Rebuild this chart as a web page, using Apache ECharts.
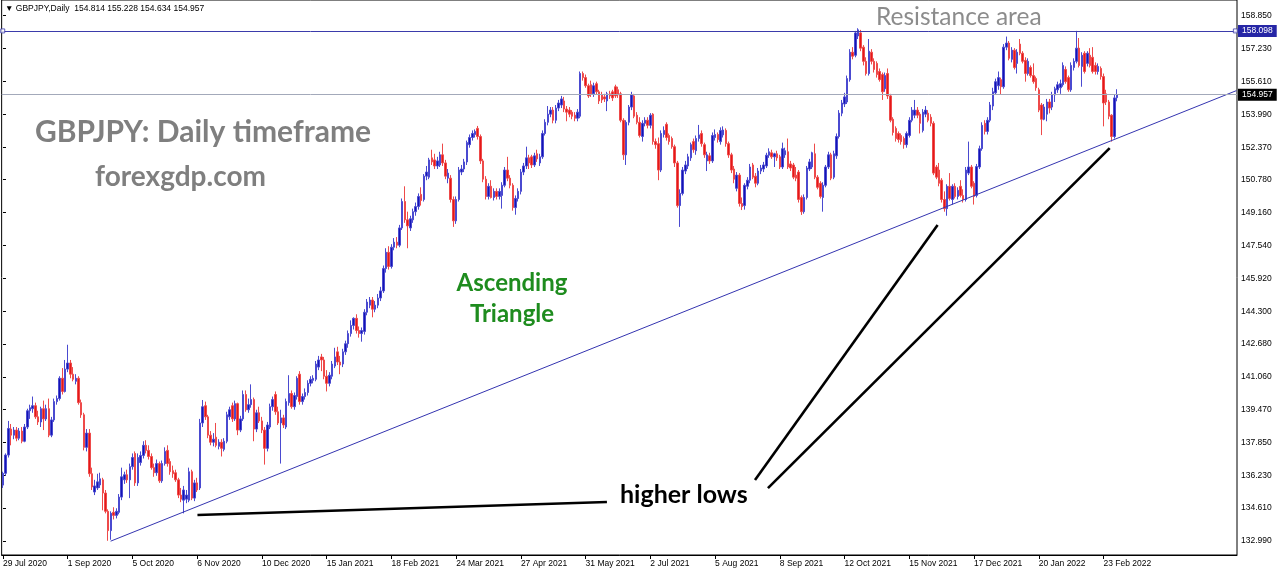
<!DOCTYPE html>
<html><head><meta charset="utf-8">
<script src="https://cdn.jsdelivr.net/npm/echarts@6/dist/echarts.min.js"></script>
<style>html,body{margin:0;padding:0;background:#fff}#c{width:1280px;height:572px}</style>
</head><body><div id="c"></div>
<script>
const chartTitle = 'GBPJPY,Daily';
const dateLabels = ['29 Jul 2020','1 Sep 2020','5 Oct 2020','6 Nov 2020','10 Dec 2020','15 Jan 2021','18 Feb 2021','24 Mar 2021','27 Apr 2021','31 May 2021','2 Jul 2021','5 Aug 2021','8 Sep 2021','12 Oct 2021','15 Nov 2021','17 Dec 2021','20 Jan 2022','23 Feb 2022'];
const barsPerLabel = 24;
const totalSlots = 458;
const priceTicks = [132.990,134.610,136.230,137.850,139.470,141.060,142.680,144.300,145.920,147.540,149.160,150.780,152.370,153.990,155.610,157.230,158.850];
const resistanceLevel = 158.098;
const lastPrice = 154.957;
const trendLine = [[39.9,132.98],[457.3,155.16]];
const arrowLines = [
  [[72.1,134.27],[223.9,134.91]],
  [[278.8,135.99],[346.5,148.54]],
  [[283.6,135.59],[410.3,152.33]]
];

const opens = [
135.74,136.32,137.22,138.50,138.20,138.45,138.05,138.40,137.90,138.60,
139.40,139.50,139.65,139.10,138.85,139.50,139.00,139.50,138.20,138.95,
139.85,140.00,141.00,140.35,141.45,141.75,141.20,140.85,141.00,139.80,
139.20,137.60,138.30,136.30,135.40,135.60,135.75,136.00,135.35,134.45,
133.50,134.40,134.25,134.40,135.15,136.00,136.25,136.00,136.65,137.30,
135.85,136.85,137.20,137.70,137.45,137.15,136.60,136.35,136.80,135.95,
136.80,137.45,136.90,136.45,136.35,136.00,135.25,135.00,135.05,135.00,
136.40,135.10,135.85,135.60,138.80,139.65,139.10,138.20,137.85,138.10,
137.65,137.85,137.50,137.90,139.10,139.65,139.00,139.75,138.45,139.00,
140.20,139.45,139.70,139.95,138.50,139.30,138.90,138.45,137.55,138.60,
139.60,140.20,139.35,138.80,139.05,138.60,139.80,140.25,139.60,140.10,
141.20,139.85,140.10,140.30,140.75,140.90,140.95,141.55,142.05,141.90,
141.10,140.75,141.10,141.60,142.30,141.80,141.70,142.30,142.70,143.20,
143.60,143.95,143.35,143.20,143.30,144.25,144.60,144.85,144.40,144.60,
144.95,145.30,146.40,147.20,146.50,147.45,147.70,147.55,148.40,149.70,
148.80,148.40,148.80,149.20,149.45,150.05,149.80,150.95,150.90,151.85,
151.75,151.45,151.50,152.00,151.60,150.85,150.85,149.80,148.75,149.80,
151.15,151.30,151.65,152.50,152.85,153.00,153.30,152.90,151.70,150.80,
149.95,150.45,149.90,150.20,149.95,150.00,150.50,151.25,150.85,150.50,
149.40,149.85,150.20,151.15,151.45,151.85,151.90,151.50,152.05,151.60,
151.90,153.05,153.60,154.00,154.20,153.70,154.30,154.45,154.65,154.25,
154.20,154.10,153.95,153.80,153.90,156.00,155.80,155.40,155.45,155.00,
155.50,155.10,154.95,154.85,154.65,155.00,155.10,155.35,155.20,155.00,
153.70,152.00,153.60,154.35,154.90,153.95,153.60,152.90,153.55,153.70,
153.45,154.00,152.65,152.55,151.25,153.00,153.50,152.95,152.80,152.40,
151.60,149.50,150.10,151.20,151.45,151.85,152.65,152.20,152.80,153.05,
152.50,151.70,151.95,151.70,152.85,153.00,152.65,152.98,153.20,152.55,
152.00,151.30,150.35,151.00,149.60,149.50,150.45,150.75,151.50,150.95,
150.60,151.20,151.30,151.45,151.98,152.10,151.90,152.05,151.90,151.40,
152.00,152.15,151.55,151.50,151.00,151.15,149.90,149.20,149.90,151.30,
151.40,152.05,150.90,150.60,149.90,150.50,151.40,152.00,150.90,151.95,
152.90,154.05,154.50,154.60,155.70,157.05,156.90,157.85,158.00,157.30,
156.60,156.00,157.05,156.60,156.50,156.10,155.95,155.25,156.00,154.90,
153.75,153.30,153.05,152.95,152.80,152.50,152.95,153.70,153.95,154.20,
154.00,153.20,154.00,154.05,153.85,153.55,151.40,151.25,150.75,149.80,
149.35,150.45,149.80,150.45,149.95,150.45,150.00,149.80,151.10,151.40,
150.60,150.00,151.40,152.30,153.55,153.15,153.70,154.40,155.05,155.40,
155.70,155.35,157.30,157.50,156.70,157.15,156.50,157.45,157.00,156.65,
156.00,156.30,155.90,155.75,155.20,154.45,153.75,154.00,154.60,154.35,
154.95,155.20,155.30,155.45,156.20,155.80,155.20,156.30,156.60,157.25,
156.35,157.00,156.50,156.90,156.80,156.40,156.10,156.25,155.85,155.00,
154.60,153.95,152.90,154.814];
const highs = [
136.40,137.30,138.90,138.75,138.60,138.60,138.55,138.60,138.75,139.50,
139.70,140.10,139.80,139.40,139.60,139.90,139.70,140.00,139.10,140.00,
140.15,141.10,141.50,141.90,142.65,141.90,141.55,141.20,141.10,139.95,
139.30,138.50,138.50,136.60,136.00,136.30,136.35,136.10,135.50,134.55,
134.45,134.65,134.60,135.30,136.60,136.40,136.50,136.80,137.30,137.40,
137.30,137.40,137.90,137.95,137.70,137.30,136.80,137.00,136.90,136.95,
137.60,137.70,137.05,136.70,136.50,136.10,135.60,135.70,135.50,136.60,
136.50,136.00,136.10,139.00,139.93,139.85,139.20,138.40,138.30,138.80,
138.00,138.00,138.05,139.35,139.60,139.80,139.90,139.80,139.15,140.40,
140.40,140.00,140.70,140.05,139.45,139.60,139.10,138.60,138.85,139.75,
140.10,140.35,139.60,139.45,139.20,140.00,141.15,140.40,140.30,141.10,
141.35,140.25,140.50,140.90,141.10,141.15,141.85,142.10,142.20,142.05,
141.40,141.30,141.85,142.50,142.55,142.10,142.45,142.85,143.35,143.85,
144.00,144.15,143.55,143.50,144.40,144.90,145.00,145.00,144.80,145.15,
145.50,146.55,147.40,147.50,147.60,147.90,147.95,148.55,149.85,150.45,
149.20,149.00,149.35,149.65,150.10,150.40,151.05,151.45,151.85,152.25,
152.05,151.90,152.15,152.55,151.75,151.30,151.00,149.95,149.95,151.40,
151.50,151.80,152.70,153.00,153.20,153.25,153.42,153.00,151.80,150.95,
150.60,150.75,150.35,150.35,150.35,150.65,151.40,151.90,151.00,150.60,
150.00,150.35,151.30,151.60,152.40,152.00,152.00,152.10,152.25,152.05,
153.20,153.75,154.40,154.35,154.35,154.45,154.70,154.90,154.85,154.40,
154.35,154.20,154.10,154.25,156.10,156.10,155.95,155.50,155.65,155.55,
155.60,155.20,155.10,155.00,155.10,155.15,155.20,155.45,155.35,155.10,
153.80,153.70,154.45,155.10,155.00,154.10,153.85,153.70,153.85,153.85,
154.05,154.05,152.80,152.85,153.20,153.40,153.60,153.05,152.90,152.50,
151.70,150.30,151.40,151.70,152.05,152.60,152.80,152.95,153.47,153.20,
152.60,152.15,152.10,153.10,153.25,153.10,153.35,153.40,153.30,152.65,
152.10,151.45,151.15,151.10,149.90,150.60,150.90,151.55,151.60,151.10,
151.35,151.50,151.65,152.10,152.32,152.25,152.10,152.20,152.00,152.60,
152.35,152.80,151.70,151.60,151.40,151.25,150.00,150.05,151.45,151.80,
152.15,152.55,151.00,150.70,150.65,151.50,152.15,152.10,152.20,153.05,
154.20,154.70,155.05,155.90,157.20,157.30,158.10,158.23,158.15,157.40,
156.80,157.70,157.20,156.75,156.60,156.25,156.05,156.05,156.25,155.00,
153.85,153.40,153.15,153.05,152.90,153.15,153.85,154.35,154.70,154.35,
154.10,154.25,154.40,154.20,154.00,153.65,151.50,151.60,150.85,150.20,
150.55,151.10,150.55,150.60,150.40,150.75,150.30,151.40,152.65,151.50,
150.70,151.55,152.45,153.60,153.70,153.85,154.60,155.30,155.75,156.10,
155.80,157.45,157.82,157.60,157.30,157.25,157.20,157.70,157.10,156.80,
156.75,156.40,156.50,155.85,155.30,154.55,154.50,154.75,154.75,155.10,
155.35,155.60,155.70,156.55,156.35,155.90,156.55,156.75,158.10,157.75,
157.05,157.10,157.10,157.25,157.30,156.55,156.50,156.35,156.00,155.20,
154.70,154.00,154.95,155.228];
const lows = [
135.60,136.20,137.10,137.70,138.00,137.90,137.95,137.80,137.85,138.50,
139.00,139.30,139.00,138.70,138.60,138.45,138.90,138.10,138.10,138.85,
139.70,139.90,140.20,140.30,141.30,141.00,140.85,140.70,139.70,139.05,
137.45,137.40,136.15,135.50,135.25,135.50,135.60,134.50,134.35,133.00,
133.05,134.05,134.10,134.30,135.00,135.80,135.85,135.10,136.50,135.70,
135.70,136.70,137.05,137.30,137.00,136.50,136.15,136.20,135.85,135.85,
136.70,136.65,136.25,136.10,135.90,135.10,134.90,134.35,134.85,134.90,
135.00,134.95,135.40,135.50,138.60,138.95,138.05,137.70,137.65,137.60,
137.50,137.15,137.40,137.80,138.95,138.85,138.90,138.20,138.35,138.90,
139.35,139.30,139.55,137.90,138.35,138.80,138.30,136.75,137.40,138.50,
139.40,139.20,138.70,136.80,138.55,138.50,139.65,139.50,139.45,139.95,
139.70,139.70,139.95,140.15,140.60,140.75,140.85,141.40,141.35,140.95,
140.35,140.60,140.95,141.50,141.65,141.20,141.55,142.15,142.50,143.05,
143.40,143.20,143.00,142.80,143.15,144.10,144.45,144.00,144.25,144.45,
144.80,145.20,146.20,146.35,146.40,147.30,147.40,147.45,148.30,148.65,
147.40,148.25,148.65,149.00,149.30,149.50,149.70,150.75,150.80,151.50,
151.30,151.30,151.40,151.45,150.80,150.60,149.65,148.45,148.60,149.70,
151.00,151.15,151.50,152.35,152.70,152.85,152.75,151.55,150.65,149.80,
149.80,149.85,149.75,149.80,149.80,149.35,150.40,150.70,150.35,149.25,
149.05,149.70,150.05,151.00,151.30,151.30,151.35,151.40,151.65,151.45,
151.80,152.95,153.45,153.85,153.55,153.55,154.15,154.30,154.10,153.65,
153.85,153.75,153.65,153.65,153.80,155.65,155.30,154.80,154.85,154.85,
154.95,154.50,154.55,154.60,154.15,154.75,154.65,154.80,154.80,153.60,
151.75,151.50,153.45,154.20,153.80,153.50,152.85,152.65,153.40,153.30,
153.30,152.50,152.30,150.75,151.15,152.85,152.70,152.50,152.30,151.40,
149.40,148.45,150.00,151.05,151.30,151.70,152.10,152.00,152.65,152.40,
151.85,151.20,151.55,151.60,152.70,152.60,152.50,152.85,152.40,151.85,
151.10,150.60,150.20,149.45,149.28,149.30,150.30,150.60,150.80,150.40,
150.50,151.05,151.15,151.35,151.85,151.80,151.40,151.70,151.30,151.30,
151.85,151.30,151.20,150.80,150.70,149.65,149.04,149.10,149.80,151.20,
151.30,150.80,150.30,149.85,149.20,150.40,151.30,150.75,150.80,151.80,
152.80,153.90,154.35,154.50,155.60,156.70,156.80,157.70,157.10,156.40,
155.90,155.90,156.45,156.05,155.80,155.60,154.70,155.10,154.75,153.60,
152.95,152.65,152.60,152.50,152.30,152.35,152.85,153.60,153.80,153.80,
153.05,153.10,153.85,153.60,153.40,151.00,150.80,150.45,149.65,149.20,
149.00,149.75,149.55,149.85,149.80,149.90,149.65,149.70,151.00,150.35,
149.55,149.90,151.30,152.20,153.00,153.00,153.60,154.20,154.95,155.20,
154.95,155.25,157.15,156.65,156.55,156.20,156.00,156.90,156.50,155.60,
155.90,155.80,155.50,155.15,154.10,152.97,153.70,153.65,154.04,154.20,
154.60,155.05,155.00,155.35,155.50,155.10,155.10,156.15,156.50,156.30,
155.35,156.00,156.35,156.30,156.00,155.95,155.95,155.70,153.40,154.45,
153.75,152.65,152.80,154.634];
const closes = [
136.32,137.22,138.53,138.20,138.45,138.05,138.40,137.90,138.60,139.40,
139.55,139.65,139.10,138.85,139.50,139.00,139.50,138.20,138.95,139.85,
140.00,141.00,140.35,141.45,141.75,141.20,140.95,141.00,139.80,139.20,
137.60,138.30,136.30,135.65,135.70,135.90,136.05,135.35,134.45,133.50,
134.35,134.25,134.45,135.15,136.15,136.25,136.00,136.65,137.10,135.85,
137.10,137.20,137.70,137.45,137.15,136.60,136.35,136.80,135.95,136.80,
137.40,136.80,136.40,136.30,136.00,135.25,135.05,135.50,135.25,136.40,
135.10,135.85,135.50,138.80,139.60,139.10,138.20,137.85,138.00,137.70,
137.85,137.55,137.90,139.20,139.45,139.00,139.75,138.45,139.00,140.20,
139.45,139.70,139.95,138.50,139.30,138.90,138.45,137.55,138.70,139.60,
139.95,139.35,138.80,139.05,138.70,139.85,140.25,139.60,140.15,141.00,
139.85,140.10,140.30,140.75,140.95,141.00,141.70,141.90,141.90,141.10,
140.75,141.15,141.70,142.05,141.80,141.65,142.30,142.70,143.20,143.60,
143.95,143.35,143.20,143.35,144.25,144.75,144.85,144.40,144.60,144.95,
145.30,146.40,147.20,146.50,147.45,147.70,147.55,148.40,149.70,148.80,
148.50,148.85,149.20,149.45,149.95,149.75,150.95,151.15,151.75,151.65,
151.45,151.70,152.00,151.60,150.95,151.10,149.80,148.75,149.80,151.25,
151.30,151.65,152.60,152.85,153.05,153.15,152.90,151.70,150.80,149.95,
150.45,149.90,150.20,149.95,150.20,150.50,151.25,150.85,150.50,149.40,
149.85,150.20,151.15,151.45,151.85,151.60,151.50,151.95,151.80,151.90,
153.05,153.60,154.00,154.20,153.70,154.30,154.55,154.75,154.25,154.10,
154.00,153.90,153.80,154.10,156.00,155.80,155.40,154.90,155.00,155.40,
155.10,154.65,154.70,154.75,155.00,154.90,154.80,154.90,154.95,153.70,
152.00,153.60,154.35,154.95,153.90,153.60,152.95,153.55,153.70,153.45,
153.95,152.65,152.50,151.25,153.05,153.20,152.85,152.65,152.40,151.60,
149.50,150.10,151.25,151.50,151.90,152.50,152.25,152.80,152.98,152.55,
152.00,152.00,151.70,152.95,153.00,152.75,153.20,153.22,152.55,151.99,
151.25,150.80,151.00,149.60,149.45,150.50,150.75,151.40,150.90,150.60,
151.20,151.35,151.50,151.98,152.15,151.90,152.05,151.85,151.40,152.30,
152.20,151.40,151.35,150.90,150.85,149.80,149.20,149.90,151.35,151.65,
152.10,150.90,150.40,149.95,150.50,151.40,152.00,150.85,152.05,152.90,
154.05,154.55,154.85,155.75,157.05,156.85,158.00,158.15,157.25,156.60,
156.00,157.10,156.60,156.20,155.95,155.70,155.10,155.90,154.90,153.70,
153.10,152.80,152.75,152.65,152.50,153.05,153.70,154.20,154.20,153.95,
153.55,154.10,154.20,153.70,153.55,151.10,150.90,150.60,149.80,149.35,
150.45,149.85,150.45,149.95,150.25,150.00,149.80,151.25,151.40,150.45,
149.95,151.42,152.30,153.45,153.15,153.70,154.45,155.10,155.60,155.80,
155.35,157.30,157.50,156.75,157.15,156.30,157.05,157.00,156.60,156.00,
156.60,155.90,155.60,155.30,154.20,153.75,154.35,154.60,154.30,154.95,
155.25,155.45,155.50,156.40,155.60,155.20,156.40,156.60,157.25,156.40,
156.90,156.10,157.00,156.40,156.10,156.10,156.35,155.85,154.55,154.60,
153.90,152.90,154.80,154.957];

const categories = [];
for (let i = 0; i < totalSlots; i++) {
  const k = i / barsPerLabel;
  categories.push(i % barsPerLabel === 0 && k < dateLabels.length ? dateLabels[k] : '');
}
const candleData = opens.map((o, i) => [o, closes[i], lows[i], highs[i]]);
const last = opens.length - 1;
const header = '\u25BC ' + chartTitle + '  ' + [opens[last], highs[last], lows[last], closes[last]].map(v => v.toFixed(3)).join(' ');
const showLabel = (i) => i % barsPerLabel === 0 && i / barsPerLabel < dateLabels.length;
const smallFont = 'Liberation Sans';

const chart = echarts.init(document.getElementById('c'), null, {renderer: 'canvas'});
const arrowSeries = arrowLines.map(pts => ({
  type: 'line', xAxisIndex: 1, yAxisIndex: 0, data: pts, symbol: 'none', silent: true,
  lineStyle: {color: '#000', width: 2.6}, z: 5, animation: false
}));
chart.setOption({
  animation: false,
  backgroundColor: '#ffffff',
  grid: {left: 1, top: 0, width: 1236, height: 555, show: true, borderColor: '#000', borderWidth: 1, backgroundColor: 'transparent'},
  xAxis: [
    {type: 'category', data: categories, boundaryGap: true,
     axisLine: {show: true, lineStyle: {color: '#000', width: 1}},
     axisTick: {show: true, alignWithLabel: true, interval: (i) => showLabel(i), length: 4, lineStyle: {color: '#000'}},
     axisLabel: {show: true, interval: (i) => showLabel(i), align: 'left', margin: 4, fontSize: 8.5, color: '#000', fontFamily: smallFont},
     splitLine: {show: false}},
    {type: 'value', min: -0.5, max: totalSlots - 0.5, show: false, gridIndex: 0}
  ],
  yAxis: {type: 'value', position: 'right', min: 132.30, max: 159.62, scale: true,
    axisLine: {show: false},
    axisTick: {show: true, customValues: priceTicks, length: 3, lineStyle: {color: '#000'}},
    axisLabel: {show: true, customValues: priceTicks, formatter: (v) => v.toFixed(3), margin: 4, fontSize: 8.5, color: '#000', fontFamily: smallFont},
    splitLine: {show: false}},
  graphic: [
    {type: 'text', x: 5, y: 9, style: {text: header, font: '8.5px "Liberation Sans"', fill: '#000', textVerticalAlign: 'middle'}},
    {type: 'text', x: 35, y: 132, style: {text: 'GBPJPY: Daily timeframe', font: 'bold 30px Lato', fill: '#7f7f7f', textVerticalAlign: 'middle'}},
    {type: 'text', x: 95, y: 177, style: {text: 'forexgdp.com', font: 'bold 28px Lato', fill: '#7f7f7f', textVerticalAlign: 'middle'}},
    {type: 'text', x: 512, y: 283, style: {text: 'Ascending', font: 'bold 24px Lato', fill: '#1e8c1e', textAlign: 'center', textVerticalAlign: 'middle'}},
    {type: 'text', x: 512, y: 314, style: {text: 'Triangle', font: 'bold 24px Lato', fill: '#1e8c1e', textAlign: 'center', textVerticalAlign: 'middle'}},
    {type: 'text', x: 876, y: 17, style: {text: 'Resistance area', font: '24.5px Lato', fill: '#8c8c8c', textVerticalAlign: 'middle'}},
    {type: 'text', x: 620, y: 495, style: {text: 'higher lows', font: 'bold 25px Lato', fill: '#000', textVerticalAlign: 'middle'}}
  ],
  series: [
    {type: 'candlestick', xAxisIndex: 0, yAxisIndex: 0, data: candleData, barWidth: 2,
     itemStyle: {color: '#1414b4', color0: '#e41818', borderColor: '#4a4ad0', borderColor0: '#ee4a4a', borderWidth: 1},
     markLine: {silent: true, symbol: ['none', 'none'], animation: false,
       data: [
         {yAxis: resistanceLevel, lineStyle: {color: '#3b3bab', width: 1, type: 'solid'},
          label: {show: true, position: 'end', formatter: resistanceLevel.toFixed(3), color: '#fff', backgroundColor: '#2626a6', padding: [2, 4, 1, 4], fontSize: 8.5, fontFamily: smallFont, distance: 1}},
         {yAxis: lastPrice, lineStyle: {color: '#a3a9ba', width: 1, type: 'solid'},
          label: {show: true, position: 'end', formatter: lastPrice.toFixed(3), color: '#fff', backgroundColor: '#000', padding: [2, 4, 1, 4], fontSize: 8.5, fontFamily: smallFont, distance: 1}}
       ]}},
    {type: 'scatter', xAxisIndex: 1, yAxisIndex: 0, data: [[-0.1, resistanceLevel], [456.9, resistanceLevel]], symbol: 'rect', symbolSize: 4,
     itemStyle: {color: '#fff', borderColor: '#3b3bab', borderWidth: 1}, silent: true, z: 6},
    {type: 'line', xAxisIndex: 1, yAxisIndex: 0, data: trendLine, symbol: 'none', silent: true,
     lineStyle: {color: '#3434b0', width: 1}, z: 4}
  ].concat(arrowSeries)
});
</script>
</body></html>
